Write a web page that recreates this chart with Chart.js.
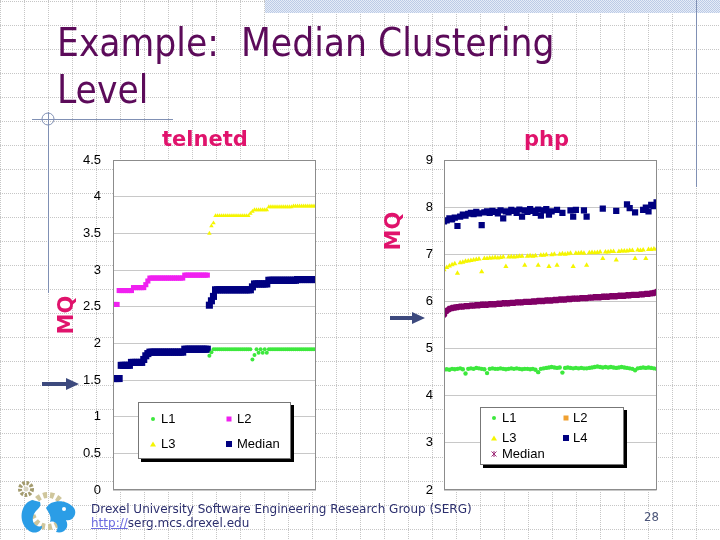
<!DOCTYPE html>
<html>
<head>
<meta charset="utf-8">
<script src="https://cdn.jsdelivr.net/npm/chart.js@4.4.1/dist/chart.umd.min.js"></script>
<style>
  html, body { margin: 0; padding: 0; }
  body { width: 720px; height: 540px; position: relative; overflow: hidden; background: #fff; font-family: 'Liberation Sans', Arial, sans-serif; }
  .abs { position: absolute; }
  #grid { position: absolute; left: 0; top: 0; z-index: 0; }
  #band { position: absolute; left: 265px; top: 0; width: 455px; height: 13px; background: repeating-conic-gradient(#bccbe6 0 25%, #e6ecf7 0 50%) 0 0 / 2px 2px; z-index: 1; }
  .rule { position: absolute; background: #8090b4; z-index: 1; }
  .title { position: absolute; left: 57px; font-family: 'DejaVu Sans Condensed', 'DejaVu Sans', sans-serif; font-stretch: condensed; font-size: 38.5px; line-height: 47px; color: #5c0b5a; white-space: nowrap; z-index: 3; }
  .label { position: absolute; font-family: 'DejaVu Sans', sans-serif; font-weight: bold; font-size: 21px; line-height: 21px; color: #e0136c; white-space: nowrap; z-index: 3; }
  .mq { transform: translate(-50%, -50%) rotate(-90deg); }
  .chart { position: absolute; z-index: 2; }
  .legend { position: absolute; background: #fff; border: 1px solid #777; box-shadow: 3px 3px 0 #000; z-index: 3; font-size: 13px; color: #000; }
  .legend span.t { position: absolute; line-height: 14px; transform: translateY(-50%); white-space: nowrap; }
  .mk { position: absolute; transform: translate(-50%, -50%); }
  .footer { position: absolute; left: 91px; top: 502px; font-family: 'DejaVu Sans', sans-serif; font-size: 12px; line-height: 14px; color: #2c2f6e; white-space: nowrap; z-index: 3; }
  .footer a { color: #6b6be0; text-decoration: underline; }
  .page { position: absolute; left: 644px; top: 509px; font-family: 'DejaVu Sans Condensed', 'DejaVu Sans', sans-serif; font-size: 13px; color: #4a5478; z-index: 3; }
</style>
</head>
<body>
<canvas id="grid" width="720" height="540"></canvas>
<div id="band"></div>
<div class="rule" style="left:696px; top:0; width:1px; height:187px;"></div>
<div class="rule" style="left:32px; top:119px; width:141px; height:1px;"></div>
<div class="rule" style="left:48px; top:112px; width:1px; height:181px;"></div>
<svg class="abs" style="left:40px; top:111px; z-index:1;" width="16" height="16"><circle cx="8" cy="8" r="6" fill="none" stroke="#8090b4" stroke-width="1"/></svg>

<div class="title" style="top:19px;">Example:&nbsp; Median Clustering</div>
<div class="title" style="top:66px;">Level</div>

<div class="label" style="left:162px; top:129px;">telnetd</div>
<div class="label" style="left:524px; top:129px;">php</div>
<div class="label mq" style="left:66px; top:315px;">MQ</div>
<div class="label mq" style="left:393px; top:231px;">MQ</div>

<svg class="abs" style="left:40px; top:376px; z-index:3;" width="42" height="16"><polygon points="2,6 26,6 26,2 39,8 26,14 26,10 2,10" fill="#3d4a7e"/></svg>
<svg class="abs" style="left:388px; top:310px; z-index:3;" width="42" height="16"><polygon points="2,6 24,6 24,2 37,8 24,14 24,10 2,10" fill="#3d4a7e"/></svg>

<canvas id="telnetdChart" class="chart" width="248" height="350" style="left:73px; top:150px;"></canvas>
<canvas id="phpChart" class="chart" width="259" height="350" style="left:404px; top:150px;"></canvas>

<div class="legend" style="left:138px; top:402px; width:151px; height:55px;">
  <span class="mk" style="left:14px; top:16px; width:4px; height:4px; border-radius:50%; background:#3de83d;"></span>
  <span class="t" style="left:22px; top:16px;">L1</span>
  <span class="mk" style="left:90px; top:16px; width:5px; height:5px; background:#f020f0;"></span>
  <span class="t" style="left:98px; top:16px;">L2</span>
  <span class="mk" style="left:14px; top:41px; width:0; height:0; border-left:3px solid transparent; border-right:3px solid transparent; border-bottom:5px solid #f5f500;"></span>
  <span class="t" style="left:22px; top:41px;">L3</span>
  <span class="mk" style="left:90px; top:41px; width:6px; height:6px; background:#000080;"></span>
  <span class="t" style="left:98px; top:41px;">Median</span>
</div>

<div class="legend" style="left:480px; top:407px; width:142px; height:56px;">
  <span class="mk" style="left:13px; top:10px; width:4px; height:4px; border-radius:50%; background:#3de83d;"></span>
  <span class="t" style="left:21px; top:10px;">L1</span>
  <span class="mk" style="left:85px; top:10px; width:5px; height:5px; background:#f0a030;"></span>
  <span class="t" style="left:92px; top:10px;">L2</span>
  <span class="mk" style="left:13px; top:30px; width:0; height:0; border-left:3px solid transparent; border-right:3px solid transparent; border-bottom:5px solid #f5f500;"></span>
  <span class="t" style="left:21px; top:30px;">L3</span>
  <span class="mk" style="left:85px; top:30px; width:6px; height:6px; background:#000080;"></span>
  <span class="t" style="left:92px; top:30px;">L4</span>
  <svg class="mk" style="left:13px; top:46px;" width="7" height="7"><path d="M1 1L6 6M6 1L1 6M3.5 0.5V6.5" stroke="#a0307a" stroke-width="1"/></svg>
  <span class="t" style="left:21px; top:46px;">Median</span>
</div>

<svg class="abs" style="left:12px; top:478px; z-index:3;" width="70" height="60">
  <circle cx="14" cy="11" r="6" fill="none" stroke="#a39b6e" stroke-width="4" stroke-dasharray="2.5 1.5"/>
  <circle cx="14" cy="11" r="2.5" fill="#d8d4c0"/>
  <circle cx="36" cy="33" r="16" fill="none" stroke="#cfc69c" stroke-width="6" stroke-dasharray="4 3"/>
  <path d="M20 22 C8 26 6 44 16 52 C22 57 30 54 30 48 C24 50 18 44 22 36 C25 30 30 30 28 24 Z" fill="#2b9de6"/>
  <path d="M34 30 C40 20 56 22 62 30 C66 36 60 44 54 42 C58 50 52 56 44 54 C48 48 44 42 38 44 C40 38 36 34 34 30 Z" fill="#2b9de6"/>
  <circle cx="52" cy="31" r="2" fill="#fff"/>
</svg>

<div class="footer">Drexel University Software Engineering Research Group (SERG)<br><a>http://</a>serg.mcs.drexel.edu</div>
<div class="page">28</div>

<script>
// telnetd: x = sample index 0..99
const telXMax = 99;
const telTicks = [0, 0.5, 1, 1.5, 2, 2.5, 3, 3.5, 4, 4.5];

const telL2Start = 0;
const telL2 = [
  2.53, 2.53, 2.53,
  2.72, 2.72, 2.72, 2.72, 2.72, 2.72, 2.72,
  2.76, 2.76, 2.76, 2.76, 2.76, 2.76,
  2.80, 2.85,
  2.89, 2.89, 2.89, 2.89, 2.89, 2.89, 2.89, 2.89, 2.89, 2.89, 2.89, 2.89, 2.89, 2.89, 2.89, 2.89, 2.89,
  2.93, 2.93, 2.93, 2.93, 2.93, 2.93, 2.93, 2.93, 2.93, 2.93, 2.93, 2.93
];

const telMedianStart = 0;
const telMedian = [
  1.52, 1.52, 1.52, 1.52,
  1.70, 1.70, 1.70, 1.70, 1.70,
  1.74, 1.74, 1.74, 1.74, 1.74, 1.74,
  1.78, 1.83, 1.86,
  1.88, 1.88, 1.88, 1.88, 1.88, 1.88, 1.88, 1.88, 1.88, 1.88, 1.88, 1.88, 1.88, 1.88, 1.88, 1.88, 1.88,
  1.92, 1.92, 1.92, 1.92, 1.92, 1.92, 1.92, 1.92, 1.92, 1.92, 1.92, 1.92,
  2.52, 2.58, 2.64,
  2.73, 2.73, 2.73, 2.73, 2.73, 2.73, 2.73, 2.73, 2.73, 2.73, 2.73, 2.73, 2.73, 2.73, 2.73, 2.73, 2.73, 2.73,
  2.77,
  2.81, 2.81, 2.81, 2.81, 2.81, 2.81, 2.81,
  2.86, 2.86, 2.86, 2.86, 2.86, 2.86, 2.86, 2.86, 2.86, 2.86, 2.86, 2.86, 2.86, 2.86,
  2.87, 2.87, 2.87, 2.87, 2.87, 2.87, 2.87, 2.87, 2.87, 2.87
];

const telL3Start = 47;
const telL3 = [
  3.50, 3.60, 3.64,
  3.74, 3.74, 3.74, 3.74, 3.74, 3.74, 3.74, 3.74, 3.74, 3.74, 3.74, 3.74, 3.74, 3.74, 3.74, 3.74, 3.74,
  3.77, 3.80,
  3.82, 3.82, 3.82, 3.82, 3.82, 3.82, 3.82,
  3.86, 3.86, 3.86, 3.86, 3.86, 3.86, 3.86, 3.86, 3.86, 3.86, 3.86, 3.86,
  3.87, 3.87, 3.87, 3.87, 3.87, 3.87, 3.87, 3.87, 3.87, 3.87, 3.87, 3.87
];

const telL1Start = 47;
const telL1 = [
  1.83, 1.88,
  1.92, 1.92, 1.92, 1.92, 1.92, 1.92, 1.92, 1.92, 1.92, 1.92, 1.92, 1.92, 1.92, 1.92, 1.92, 1.92, 1.92, 1.92, 1.92,
  1.78, 1.84,
  1.92, 1.87, 1.92, 1.87, 1.92, 1.87, 1.92,
  1.92, 1.92, 1.92, 1.92, 1.92, 1.92, 1.92, 1.92, 1.92, 1.92, 1.92, 1.92,
  1.92, 1.92, 1.92, 1.92, 1.92, 1.92, 1.92, 1.92, 1.92, 1.92, 1.92
];

// php: x = sample index 0..79
const phpXMax = 79;
const phpTicks = [2, 3, 4, 5, 6, 7, 8, 9];

const phpL1 = [
  4.55, 4.56, 4.55, 4.57, 4.56, 4.57, 4.58, 4.56, 4.47, 4.57,
  4.58, 4.57, 4.59, 4.58, 4.57, 4.56, 4.48, 4.57, 4.58, 4.57,
  4.57, 4.58, 4.57, 4.56, 4.57, 4.58, 4.57, 4.58, 4.57, 4.56,
  4.57, 4.57, 4.56, 4.57, 4.55, 4.50, 4.57, 4.58, 4.59, 4.60,
  4.61, 4.60, 4.59, 4.60, 4.49, 4.59, 4.60, 4.59, 4.58, 4.59,
  4.58, 4.59, 4.58, 4.58, 4.59, 4.60, 4.61, 4.62, 4.61, 4.60,
  4.61, 4.60, 4.61, 4.60, 4.59, 4.60, 4.61, 4.60, 4.59, 4.58,
  4.57, 4.54, 4.58, 4.59, 4.60, 4.59, 4.60, 4.59, 4.58, 4.57
];

const phpL3 = [
  6.67, 6.72, 6.75, 6.78, 6.80, 6.60, 6.82, 6.83, 6.85, 6.86,
  6.87, 6.88, 6.89, 6.90, 6.63, 6.91, 6.91, 6.92, 6.92, 6.93,
  6.92, 6.93, 6.94, 6.74, 6.94, 6.95, 6.94, 6.95, 6.96, 6.96,
  6.77, 6.96, 6.97, 6.96, 6.97, 6.77, 6.98, 6.98, 6.99, 6.74,
  6.99, 7.00, 6.77, 7.00, 7.01, 7.00, 7.01, 7.02, 6.74, 7.02,
  7.02, 7.03, 7.02, 6.77, 7.03, 7.04, 7.03, 7.04, 7.05, 6.91,
  7.05, 7.05, 7.06, 7.06, 6.88, 7.06, 7.07, 7.07, 7.07, 7.08,
  7.08, 6.91, 7.09, 7.08, 7.09, 6.91, 7.10, 7.10, 7.11, 7.11
];

const phpL4 = [
  7.70, 7.72, 7.76, 7.74, 7.78, 7.60, 7.80, 7.84, 7.82, 7.86,
  7.88, 7.85, 7.90, 7.87, 7.62, 7.89, 7.91, 7.88, 7.92, 7.90,
  7.87, 7.93, 7.76, 7.91, 7.89, 7.94, 7.92, 7.88, 7.95, 7.80,
  7.93, 7.90, 7.96, 7.92, 7.88, 7.95, 7.82, 7.93, 7.96, 7.84,
  7.91, null, 7.94, null, 7.88, null, null, 7.93, 7.80, 7.94,
  null, null, 7.93, 7.80, null, null, null, null, null, 7.97,
  null, null, null, null, 7.92, null, null, null, 8.06, 7.98,
  null, 7.89, null, null, 7.94, 7.99, 7.91, 8.05, 8.02, 8.10
];

const phpMedian = [
  5.72, 5.80, 5.84, 5.86, 5.87, 5.88, 5.89, 5.89, 5.90, 5.90,
  5.91, 5.91, 5.92, 5.92, 5.93, 5.93, 5.93, 5.94, 5.94, 5.94,
  5.95, 5.95, 5.96, 5.96, 5.96, 5.97, 5.97, 5.98, 5.98, 5.98,
  5.99, 5.99, 5.99, 6.00, 6.00, 6.01, 6.01, 6.01, 6.02, 6.02,
  6.02, 6.03, 6.03, 6.04, 6.04, 6.04, 6.05, 6.05, 6.06, 6.06,
  6.06, 6.07, 6.07, 6.07, 6.08, 6.08, 6.09, 6.09, 6.09, 6.10,
  6.10, 6.10, 6.11, 6.11, 6.11, 6.12, 6.12, 6.12, 6.13, 6.13,
  6.14, 6.14, 6.14, 6.15, 6.15, 6.16, 6.16, 6.17, 6.18, 6.20
];

// slide background: dotted grid
(function drawSlideGrid() {
  const g = document.getElementById('grid').getContext('2d');
  g.strokeStyle = '#c6c6c6';
  g.lineWidth = 1;
  g.setLineDash([1, 1]);
  g.beginPath();
  for (let x = 0; x <= 720; x += 24) { g.moveTo(x + 0.5, 0); g.lineTo(x + 0.5, 540); }
  for (let y = 1; y <= 540; y += 24) { g.moveTo(0, y + 0.5); g.lineTo(720, y + 0.5); }
  g.stroke();
})();

function pts(values, start) {
  return values
    .map((v, i) => ({ x: start + i, y: v }))
    .filter(p => p.y !== null);
}

// white plot area + grey frame
const plotFrame = {
  id: 'plotFrame',
  beforeDraw(chart) {
    const { ctx, chartArea: a } = chart;
    ctx.save();
    ctx.fillStyle = '#ffffff';
    ctx.fillRect(a.left, a.top, a.width, a.height);
    ctx.restore();
  },
  afterDraw(chart) {
    const { ctx, chartArea: a } = chart;
    ctx.save();
    ctx.strokeStyle = '#8c8c8c';
    ctx.lineWidth = 1;
    ctx.strokeRect(Math.round(a.left) + 0.5, Math.round(a.top) + 0.5, Math.round(a.width) - 1, Math.round(a.height) - 1);
    ctx.restore();
  }
};

function scatterSet(data, color, style, radius) {
  return {
    data: data,
    pointStyle: style,
    pointRadius: radius,
    pointBackgroundColor: color,
    pointBorderColor: color,
    pointBorderWidth: 0,
    clip: 0
  };
}

// gap between labels and plot comes from invisible tick marks,
// so the tick padding does not push the plot area down
function yAxis(min, max, ticks, gap) {
  return {
    min: min,
    max: max,
    afterBuildTicks: scale => { scale.ticks = ticks.map(v => ({ value: v })); },
    ticks: {
      padding: 0,
      color: '#000',
      font: { family: "'Liberation Sans', Arial, sans-serif", size: 13 },
      callback: v => String(v)
    },
    grid: { color: '#c8c8c8', drawTicks: true, tickLength: gap, tickColor: 'rgba(0,0,0,0)' },
    border: { display: false },
    afterFit: scale => { scale.width = 40; }
  };
}

const baseOptions = (xMax, y) => ({
  responsive: false,
  animation: false,
  layout: { padding: { top: 10, right: 1, bottom: 10, left: 0 } },
  plugins: { legend: { display: false }, tooltip: { enabled: false } },
  scales: {
    x: { type: 'linear', min: 0, max: xMax, display: false },
    y: y
  }
});

new Chart(document.getElementById('telnetdChart').getContext('2d'), {
  type: 'scatter',
  data: {
    datasets: [
      scatterSet(pts(telL1, telL1Start), '#3de83d', 'circle', 2),
      scatterSet(pts(telL2, telL2Start), '#f020f0', 'rect', 3.6),
      scatterSet(pts(telL3, telL3Start), '#f5f500', 'triangle', 2.6),
      scatterSet(pts(telMedian, telMedianStart), '#000080', 'rect', 5)
    ]
  },
  options: baseOptions(telXMax, yAxis(0, 4.5, telTicks, 12)),
  plugins: [plotFrame]
});

const phpMedianSet = scatterSet(pts(phpMedian, 0), '#800066', 'star', 3.2);
phpMedianSet.pointBorderWidth = 2.4;

new Chart(document.getElementById('phpChart').getContext('2d'), {
  type: 'scatter',
  data: {
    datasets: [
      scatterSet(pts(phpL1, 0), '#3de83d', 'circle', 2.2),
      scatterSet(pts(phpL3, 0), '#f5f500', 'triangle', 3),
      scatterSet(pts(phpL4, 0), '#000080', 'rect', 4.4),
      phpMedianSet
    ]
  },
  options: baseOptions(phpXMax, yAxis(2, 9, phpTicks, 11)),
  plugins: [plotFrame]
});
</script>
</body>
</html>
